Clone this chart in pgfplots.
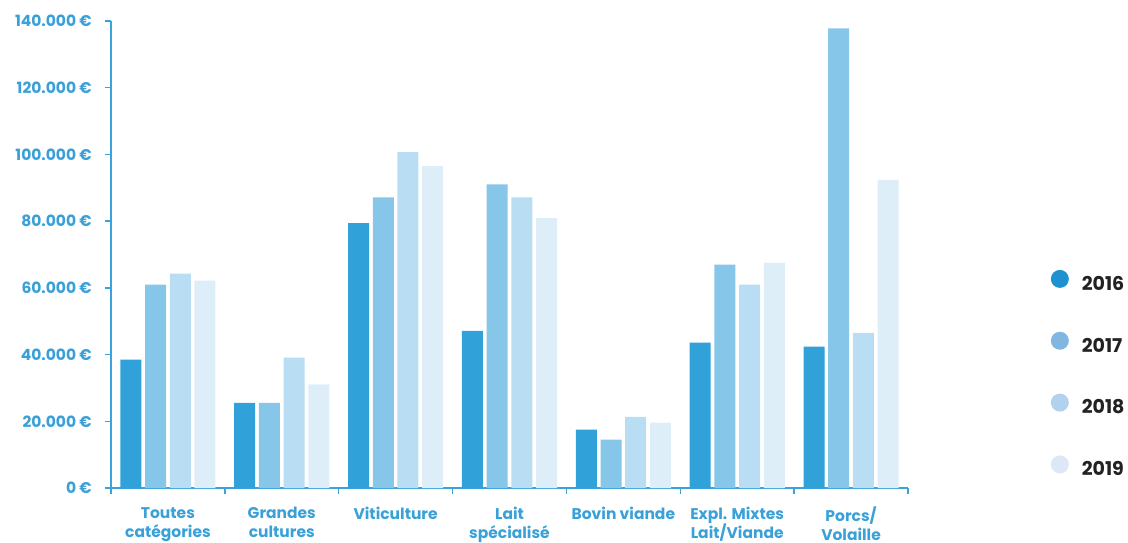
\documentclass[border=0pt]{standalone}
\usepackage{pgfplots}
\pgfplotsset{compat=1.18}
\usepackage{fontspec}
\setmainfont{Poppins}
\definecolor{axblue}{HTML}{3BA3DC}
\definecolor{labblue}{HTML}{3AA0D8}
\definecolor{c16}{HTML}{31A1DA}
\definecolor{c17}{HTML}{86C7E9}
\definecolor{c18}{HTML}{B9DDF2}
\definecolor{c19}{HTML}{DEEEF8}
\definecolor{l16}{HTML}{1E92D0}
\definecolor{l17}{HTML}{80B6E1}
\definecolor{l18}{HTML}{B1D1EE}
\definecolor{l19}{HTML}{DCE8F5}
\definecolor{legtext}{HTML}{222222}
\pgfplotsset{legdot/.style={legend image code/.code={\fill[#1] (0pt,5pt) circle (9pt);}}}
\begin{document}
\begin{tikzpicture}
\begin{axis}[
  at={(0pt,0pt)}, anchor=south west,
  width=797pt, height=467pt, scale only axis,
  ybar=3.7pt, bar width=21pt,
  xmin=0, xmax=7, ymin=0, ymax=140000,
  axis x line*=bottom, axis y line*=left,
  axis line style={-, draw=axblue, line width=1.8pt},
  tick align=outside,
  major tick length=6pt, minor tick length=6pt,
  xtick={0.5,1.5,...,6.5},
  xticklabels={{Toutes\\catégories},{Grandes\\cultures},Viticulture,{Lait\\spécialisé},{Bovin viande},{Expl. Mixtes\\Lait/Viande},{Porcs/\\Volaille}},
  minor xtick={0,1,...,7},
  major x tick style={draw=none},
  minor x tick style={draw=axblue, line width=1.5pt},
  ytick={0,20000,...,140000},
  scaled y ticks=false,
  yticklabels={0 €,20.000 €,40.000 €,60.000 €,80.000 €,100.000 €,120.000 €,140.000 €},
  y tick style={draw=axblue, line width=1.5pt},
  tick label style={text=labblue, font=\fontsize{15.5}{19}\selectfont\bfseries, inner sep=0pt},
  xticklabel style={align=center, yshift=-13pt},
  yticklabel style={xshift=-13pt},
  legend style={at={(1.179,0.245)}, anchor=west, draw=none, fill=none,
    inner sep=0pt, row sep=40pt, column sep=13pt, text=legtext,
    font=\fontsize{19}{21}\selectfont\bfseries, nodes={inner sep=0pt}},
  legend cell align=left,
]
\addplot[fill=c16, draw=none, legdot=l16] coordinates {(0.5,38500) (1.5,25500) (2.5,79400) (3.5,47100) (4.5,17500) (5.5,43600) (6.5,42400)};
\addplot[fill=c17, draw=none, legdot=l17] coordinates {(0.5,61000) (1.5,25500) (2.5,87100) (3.5,91000) (4.5,14500) (5.5,67000) (6.5,137800)};
\addplot[fill=c18, draw=none, legdot=l18] coordinates {(0.5,64300) (1.5,39100) (2.5,100700) (3.5,87100) (4.5,21300) (5.5,61000) (6.5,46500)};
\addplot[fill=c19, draw=none, legdot=l19] coordinates {(0.5,62200) (1.5,31100) (2.5,96600) (3.5,80900) (4.5,19600) (5.5,67600) (6.5,92400)};
\legend{2016,2017,2018,2019}
\end{axis}
\pgfresetboundingbox
\path (-111pt,-54pt) rectangle (1017pt,488pt);
\end{tikzpicture}
\end{document}
